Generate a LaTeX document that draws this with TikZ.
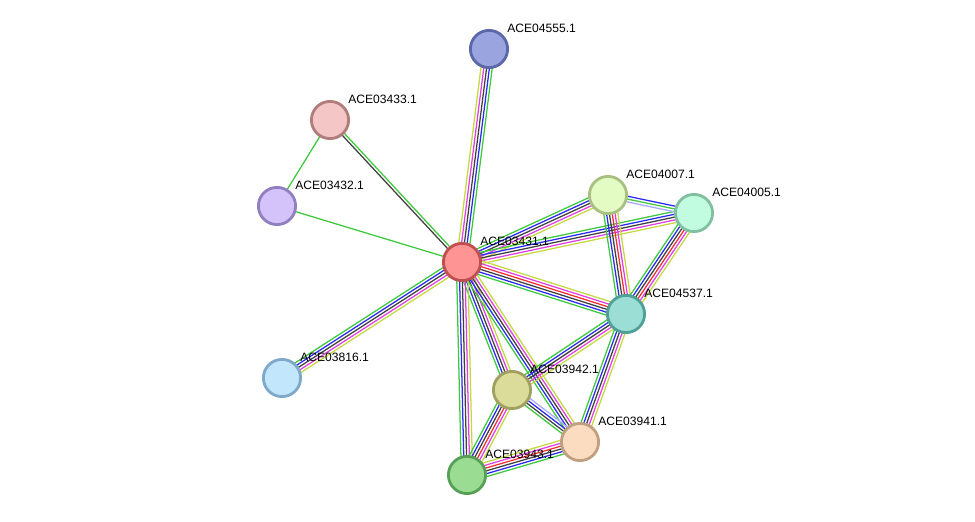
\documentclass[tikz,border=0pt]{standalone}
\usepackage{fontspec}
\setmainfont{Liberation Sans}
\usetikzlibrary{calc, backgrounds}
\definecolor{egreen}{HTML}{3DC83D}
\definecolor{eblue}{HTML}{2A2AF0}
\definecolor{eblack}{HTML}{404040}
\definecolor{emag}{HTML}{E040E0}
\definecolor{eyel}{HTML}{C4D840}
\definecolor{ered}{HTML}{F03030}
\definecolor{elblue}{HTML}{A8A8FF}
\tikzset{
  prot/.style={circle, line width=2pt, minimum size=0.93cm, inner sep=0pt},
  lab/.style={anchor=west, inner sep=0pt, font=\fontsize{8.6}{10}\selectfont},
  ln/.style={line width=0.9pt}
}
% multi-line edge: from, to, number of lines, colour list
\newcommand{\edge}[4]{%
  \foreach \c [count=\i] in {#4} {
    \pgfmathsetmacro{\o}{(\i-(#3+1)/2)*2.0}
    \draw[ln, \c] ($(#1)!\o pt!90:(#2)$) -- ($(#2)!\o pt!-90:(#1)$);
  }}
% protein node: name, position, label, border, fill
\newcommand{\prot}[5]{%
  \definecolor{d#1}{HTML}{#4}\definecolor{f#1}{HTML}{#5}%
  \node[prot, draw=d#1, fill=f#1] (#1) at (#2) {};
  \node[lab] at ($(#1)+(18,-21)$) {#3};}

\begin{document}
\begin{tikzpicture}[x=0.025cm, y=-0.025cm]
	\useasboundingbox (0,0) rectangle (975,521);
	\prot{p4555}{489,49}{ACE04555.1}{5A67A8}{9AA5E0}
	\prot{p3433}{330,120}{ACE03433.1}{B07C7C}{F5C6C6}
	\prot{p3432}{277,206}{ACE03432.1}{9080C0}{D4C2FA}
	\prot{p3431}{462,262}{ACE03431.1}{C05050}{FF9494}
	\prot{p4007}{608,195}{ACE04007.1}{A8C080}{E2FCC4}
	\prot{p4005}{694,213}{ACE04005.1}{80C0A0}{C2FCE0}
	\prot{p4537}{626,314}{ACE04537.1}{50A098}{9ADED6}
	\prot{p3816}{282,378}{ACE03816.1}{80A8C8}{C2E6FC}
	\prot{p3942}{512,390}{ACE03942.1}{A0A060}{DCDC9A}
	\prot{p3941}{580,442}{ACE03941.1}{C0A080}{FCDCC0}
	\prot{p3943}{467,475}{ACE03943.1}{58A058}{9ADC92}
	\begin{scope}[on background layer]
		\edge{p3431}{p4555}{5}{egreen, eblue, eblack, emag, eyel}
		\edge{p3431}{p3433}{2}{egreen, eblack}
		\edge{p3433}{p3432}{1}{egreen}
		\edge{p3432}{p3431}{1}{egreen}
		\edge{p3431}{p3816}{5}{egreen, eblue, eblack, emag, eyel}
		\edge{p3431}{p4007}{5}{eyel, emag, eblack, eblue, egreen}
		\edge{p3431}{p4005}{5}{eyel, emag, eblack, eblue, egreen}
		\edge{p3431}{p4537}{6}{egreen, eblue, eblack, ered, emag, eyel}
		\edge{p3431}{p3942}{5}{egreen, eblue, eblack, emag, eyel}
		\edge{p3431}{p3941}{5}{egreen, eblue, eblack, emag, eyel}
		\edge{p3431}{p3943}{5}{egreen, eblue, eblack, emag, eyel}
		\edge{p4007}{p4005}{3}{elblue, egreen, eblue}
		\edge{p4007}{p4537}{6}{egreen, eblue, eblack, ered, emag, eyel}
		\edge{p4005}{p4537}{6}{egreen, eblue, eblack, ered, emag, eyel}
		\edge{p4537}{p3942}{5}{egreen, eblue, eblack, emag, eyel}
		\edge{p4537}{p3941}{5}{egreen, eblue, eblack, emag, eyel}
		\edge{p3942}{p3941}{4}{egreen, eblack, eblue, elblue}
		\edge{p3942}{p3943}{6}{egreen, eblue, eblack, ered, emag, eyel}
		\edge{p3943}{p3941}{6}{egreen, eblue, eblack, ered, emag, eyel}
	\end{scope}
\end{tikzpicture}
\end{document}
